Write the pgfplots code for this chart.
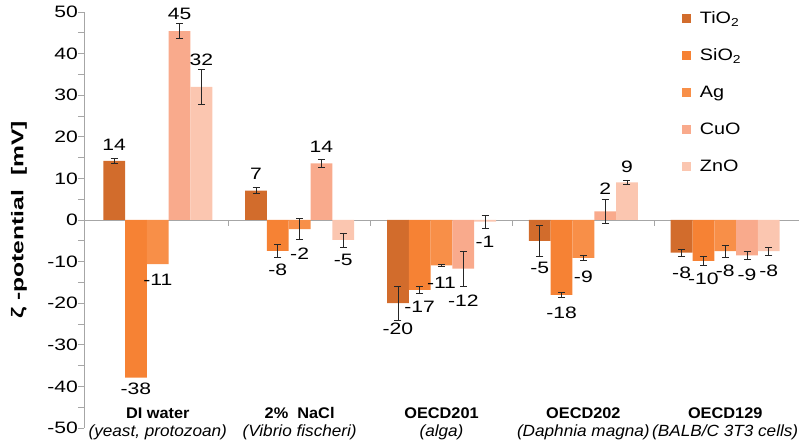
\documentclass[border=0pt]{standalone}
\usepackage{fontspec}
\setmainfont{Liberation Sans}[FakeStretch=1.28]
\newfontfamily\xfont{Liberation Sans}[FakeStretch=1.06]
\newfontfamily\yfont{Liberation Sans}[FakeStretch=1.45]
\newfontfamily\legfont{Liberation Sans}[FakeStretch=1.2]
\usepackage{pgfplots}
\pgfplotsset{compat=1.18}
\usepackage{pgfplotstable}
\newcommand\numfont{\fontsize{16.5bp}{19bp}\selectfont}
\definecolor{cTi}{RGB}{210,108,44}
\definecolor{cSi}{RGB}{246,130,52}
\definecolor{cAg}{RGB}{248,143,72}
\definecolor{cCu}{RGB}{249,170,140}
\definecolor{cZn}{RGB}{251,198,176}
\definecolor{axgray}{RGB}{166,166,166}

\pgfplotstableread{
x y err ly lab
0 14.2 0.6 18.0 14
1 7.05 0.7 11.1 7
2 -20.0 4.1 -26.2 -20
3 -5.0 3.7 -11.6 -5
4 -7.85 0.8 -12.8 -8
}\tTi
\pgfplotstableread{
x y err ly lab
0 -37.9 0 -40.6 -38
1 -7.45 1.6 -12.0 -8
2 -16.8 0.8 -20.8 -17
3 -18.0 0.7 -22.4 -18
4 -9.8 1.0 -14.2 -10
}\tSi
\pgfplotstableread{
x y err ly lab
0 -10.6 0 -14.4 -11
1 -2.2 2.5 -8.0 -2
2 -10.9 0.3 -15.1 -11
3 -9.1 0.55 -13.6 -9
4 -7.5 1.4 -12.2 -8
}\tAg
\pgfplotstableread{
x y err ly lab
0 45.4 1.8 49.5 45
1 13.6 0.9 17.6 14
2 -11.7 4.2 -19.4 -12
3 2.1 2.8 7.4 2
4 -8.5 1.0 -13.2 -9
}\tCu
\pgfplotstableread{
x y err ly lab
0 32.0 4.1 38.5 32
1 -4.8 1.7 -9.6 -5
2 -0.4 1.5 -5.2 -1
3 9.06 0.5 12.8 9
4 -7.5 0.95 -12.2 -8
}\tZn

\pgfplotsset{
  errplot/.style={draw=none, fill=none, forget plot,
    error bars/y dir=both, error bars/y explicit,
    error bars/error bar style={draw=black!85, line width=0.7bp},
    error bars/error mark options={rotate=90, mark size=3.5bp, draw=black!85, line width=0.7bp}},
  labplot/.style={draw=none, fill=none, forget plot,
    nodes near coords, point meta=explicit symbolic,
    nodes near coords align={center},
    every node near coord/.append style={font=\numfont, inner sep=0pt, text=black}},
}

\begin{document}
\begin{tikzpicture}
\begin{axis}[
  scale only axis,
  width=715bp, height=416bp,
  xmin=-0.52, xmax=4.52, ymin=-50, ymax=50,
  ybar=0pt, bar width=21.8bp,
  clip=false,
  axis y line=left, axis x line=middle,
  axis line style={-, draw=axgray, line width=0.8bp},
  xtick={0.5,1.5,2.5,3.5}, xticklabels={},
  ytick={-50,-40,...,50},
  minor ytick={-45,-35,...,45},
  tick align=outside,
  major tick length=6bp, minor tick length=6bp,
  tick style={draw=axgray, line width=0.8bp},
  /pgf/number format/assume math mode=true,
  every y tick label/.append style={font=\numfont, anchor=east, inner xsep=0pt},
  every axis y label/.style={at={(axis description cs:-0.0909,0.5)}, rotate=90, anchor=center},
  ylabel={\yfont\bfseries\fontsize{17bp}{20bp}\selectfont ζ -potential\ \ [mV]},
  legend style={at={(0.836,1.006)}, anchor=north west, draw=none, fill=none,
    font=\legfont\fontsize{16.5bp}{19bp}\selectfont, row sep=19.8bp, inner sep=0pt,
    /tikz/every odd column/.append style={column sep=7bp}},
  legend cell align=left,
  legend image code/.code={\fill[#1] (0bp,-4.5bp) rectangle (9bp,4.5bp);},
]
% bars
\addplot[fill=cTi, draw=none, bar shift=-43.6bp] table[x=x, y=y] {\tTi};
\addlegendentry{TiO\textsubscript{2}}
\addplot[fill=cSi, draw=none, bar shift=-21.8bp] table[x=x, y=y] {\tSi};
\addlegendentry{SiO\textsubscript{2}}
\addplot[fill=cAg, draw=none, bar shift=0bp] table[x=x, y=y] {\tAg};
\addlegendentry{Ag}
\addplot[fill=cCu, draw=none, bar shift=21.8bp] table[x=x, y=y] {\tCu};
\addlegendentry{CuO}
\addplot[fill=cZn, draw=none, bar shift=43.6bp] table[x=x, y=y] {\tZn};
\addlegendentry{ZnO}
% error bars
\addplot[errplot, bar shift=-43.6bp] table[x=x, y=y, y error=err] {\tTi};
\addplot[errplot, bar shift=-21.8bp, skip coords between index={0}{1}] table[x=x, y=y, y error=err] {\tSi};
\addplot[errplot, bar shift=0bp, skip coords between index={0}{1}] table[x=x, y=y, y error=err] {\tAg};
\addplot[errplot, bar shift=21.8bp] table[x=x, y=y, y error=err] {\tCu};
\addplot[errplot, bar shift=43.6bp] table[x=x, y=y, y error=err] {\tZn};
% value labels
\addplot[labplot, bar shift=-43.6bp] table[x=x, y=ly, meta=lab] {\tTi};
\addplot[labplot, bar shift=-21.8bp] table[x=x, y=ly, meta=lab] {\tSi};
\addplot[labplot, bar shift=0bp] table[x=x, y=ly, meta=lab] {\tAg};
\addplot[labplot, bar shift=21.8bp] table[x=x, y=ly, meta=lab] {\tCu};
\addplot[labplot, bar shift=43.6bp] table[x=x, y=ly, meta=lab] {\tZn};
% category labels
\begin{scope}[every node/.style={anchor=base, inner sep=0pt}]
\node[font=\xfont\bfseries\fontsize{15.4bp}{18bp}\selectfont] at (axis cs:0,-47.8) {DI water};
\node[font=\xfont\bfseries\fontsize{15.4bp}{18bp}\selectfont] at (axis cs:1,-47.8) {2\%\ \ NaCl};
\node[font=\xfont\bfseries\fontsize{15.4bp}{18bp}\selectfont] at (axis cs:2,-47.8) {OECD201};
\node[font=\xfont\bfseries\fontsize{15.4bp}{18bp}\selectfont] at (axis cs:3,-47.8) {OECD202};
\node[font=\xfont\bfseries\fontsize{15.4bp}{18bp}\selectfont] at (axis cs:4,-47.8) {OECD129};
\node[font=\xfont\itshape\fontsize{16.2bp}{18bp}\selectfont] at (axis cs:0,-52.0) {(yeast, protozoan)};
\node[font=\xfont\itshape\fontsize{16.2bp}{18bp}\selectfont] at (axis cs:1,-52.0) {(Vibrio fischeri)};
\node[font=\xfont\itshape\fontsize{16.2bp}{18bp}\selectfont] at (axis cs:2,-52.0) {(alga)};
\node[font=\xfont\itshape\fontsize{16.2bp}{18bp}\selectfont] at (axis cs:3,-52.0) {(Daphnia magna)};
\node[font=\xfont\itshape\fontsize{16.2bp}{18bp}\selectfont] at (axis cs:4,-52.0) {(BALB/C 3T3 cells)};
\end{scope}
\end{axis}
\pgfresetboundingbox
\path[use as bounding box] (-84bp,-19bp) rectangle (716bp,428bp);
\end{tikzpicture}
\end{document}
